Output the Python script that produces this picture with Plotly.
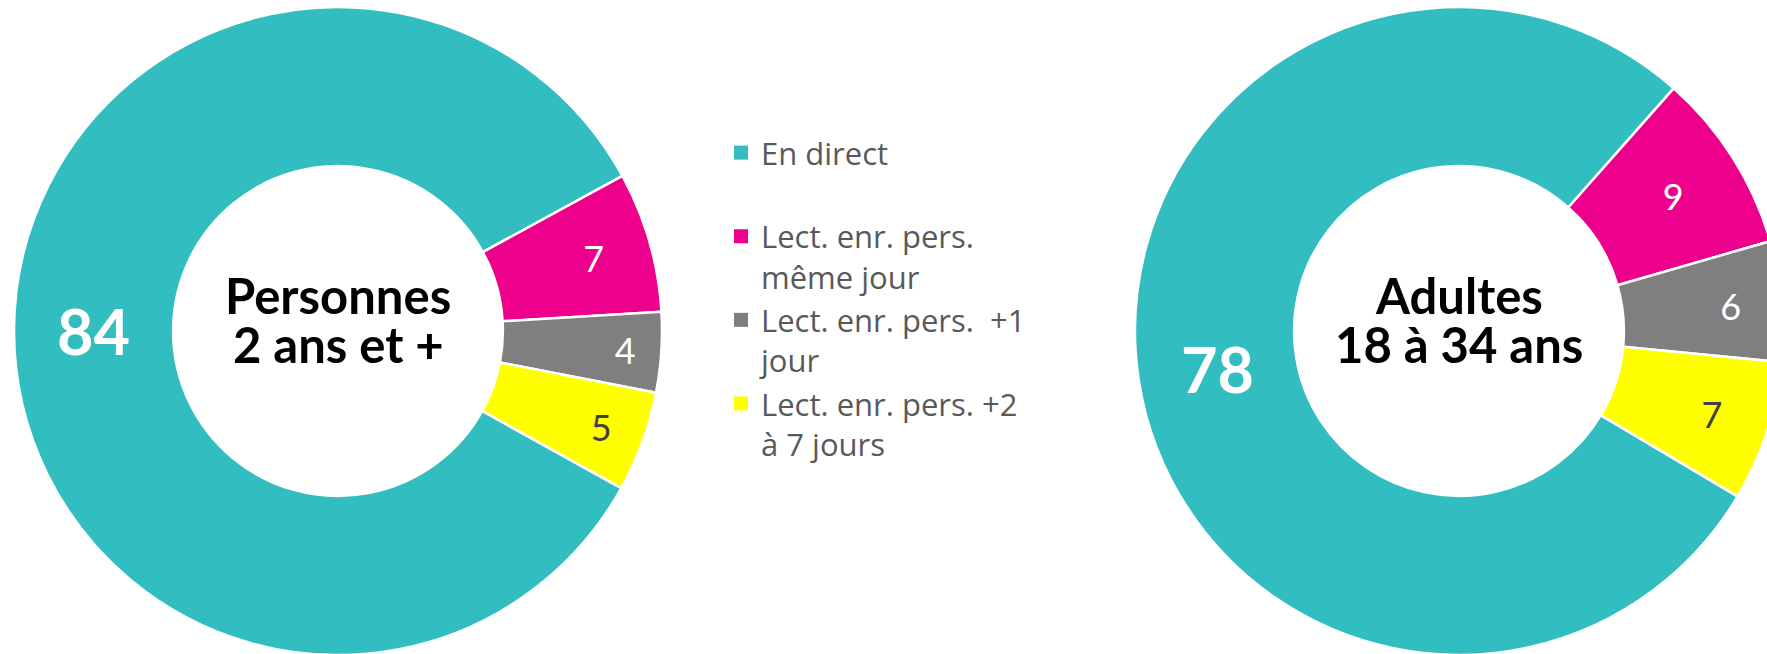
import plotly.graph_objects as go

# ---- data ----
labels = ["En direct<br>&nbsp;", "Lect. enr. pers.<br>même jour",
          "Lect. enr. pers.&nbsp; +1<br>jour", "Lect. enr. pers. +2<br>à 7 jours"]
values_all = [84, 7, 4, 5]          # Personnes 2 ans et +
values_adults = [78, 9, 6, 7]       # Adultes 18 à 34 ans
title_all = ["Personnes", "2 ans et +"]
title_adults = ["Adultes", "18 à 34 ans"]

colors = ["#32BEC1", "#EC008C", "#7F7F7F", "#FFFF00"]
text_colors = ["white", "white", "white", "#404040"]
text_sizes = [63, 36, 36, 36]
templates = ["<b>%{value}</b>", "%{value}", "%{value}", "%{value}"]

# ---- layout geometry (pixels) ----
W, H = 1790, 660
R = 324
CY = 331
CX_LEFT, CX_RIGHT = 338, 1459
HOLE = 0.509


def dom(cx):
    return dict(x=[(cx - R) / W, (cx + R) / W],
                y=[1 - (CY + R) / H, 1 - (CY - R) / H])


def pie(vals, cx, rot):
    return go.Pie(
        labels=labels, values=vals, domain=dom(cx), hole=HOLE,
        sort=False, direction="clockwise", rotation=rot,
        marker=dict(colors=colors, line=dict(color="white", width=2.5)),
        textinfo="value", texttemplate=templates, textposition="inside",
        insidetextorientation="horizontal",
        insidetextfont=dict(family="Lato", size=text_sizes, color=text_colors),
        showlegend=False, hoverinfo="label+value",
    )


fig = go.Figure()
fig.add_trace(pie(values_all, CX_LEFT, 119))
fig.add_trace(pie(values_adults, CX_RIGHT, 120.7))

# legend entries (square keys, one per category)
for lab, col in zip(labels, colors):
    fig.add_trace(go.Scatter(x=[None], y=[None], mode="markers", name=lab,
                             marker=dict(symbol="square", size=14, color=col),
                             hoverinfo="skip", showlegend=True))

annots = []
for cx, lines in ((CX_LEFT, title_all), (CX_RIGHT, title_adults)):
    for py, txt in zip((295, 344), lines):
        annots.append(dict(x=cx / W, y=1 - py / H, xref="paper", yref="paper",
                           xanchor="center", yanchor="middle", showarrow=False,
                           text="<b>" + txt + "</b>",
                           font=dict(family="Lato", size=49, color="black")))

fig.update_layout(
    width=W, height=H, margin=dict(l=0, r=0, t=0, b=0),
    paper_bgcolor="white", plot_bgcolor="white",
    xaxis=dict(visible=False), yaxis=dict(visible=False),
    annotations=annots,
    legend=dict(x=721 / W, y=1 - 126 / H, xanchor="left", yanchor="top",
                valign="top", bgcolor="rgba(0,0,0,0)", borderwidth=0,
                tracegroupgap=0,
                font=dict(family="Open Sans", size=31, color="#595959"),
                itemclick=False, itemdoubleclick=False),
)

fig.write_html(
    "out.html",
    post_script=("document.documentElement.style.overflow='hidden';"
                 "document.body.style.overflow='hidden';"
                 "document.body.style.margin='0';"),
)
